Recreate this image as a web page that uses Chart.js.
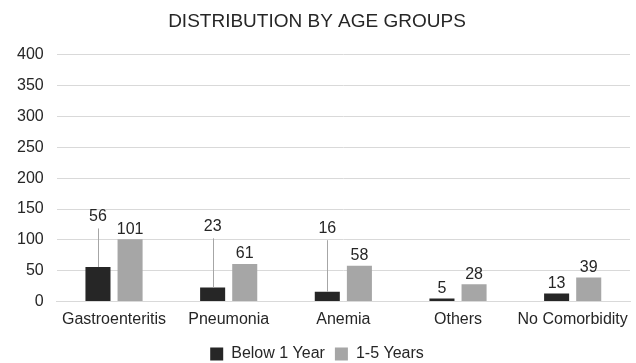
<!DOCTYPE html>
<html>
<head>
<meta charset="utf-8">
<script src="https://cdn.jsdelivr.net/npm/chart.js@4/dist/chart.umd.min.js"></script>
<style>
  html, body { margin: 0; padding: 0; background: #fff; }
  #wrap { width: 636px; height: 363px; }
</style>
</head>
<body>
<div id="wrap"><canvas id="chart" width="636" height="363"></canvas></div>
<script>
const categories = ["Gastroenteritis", "Pneumonia", "Anemia", "Others", "No Comorbidity"];
const below1Year = [56, 23, 16, 5, 13];
const oneToFive = [101, 61, 58, 28, 39];
const yTicks = [0, 50, 100, 150, 200, 250, 300, 350, 400];
// where the "Below 1 Year" labels were pulled up to (value units), null = just above bar
const below1LabelAt = [138, 122, 119, null, null];

const textColor = "#262626";
const fontFamily = "'Liberation Sans', Arial, sans-serif";

// value labels, with leader lines for the lifted ones
const valueLabels = {
  id: "valueLabels",
  afterDatasetsDraw(chart) {
    const ctx = chart.ctx;
    const y = chart.scales.y;
    ctx.save();
    ctx.font = "16px " + fontFamily;
    ctx.fillStyle = textColor;
    ctx.textAlign = "center";
    chart.data.datasets.forEach((ds, di) => {
      const meta = chart.getDatasetMeta(di);
      meta.data.forEach((bar, i) => {
        const lifted = di === 0 ? below1LabelAt[i] : null;
        if (lifted != null) {
          const ly = y.getPixelForValue(lifted);
          ctx.strokeStyle = "#a6a6a6";
          ctx.lineWidth = 1;
          ctx.beginPath();
          ctx.moveTo(Math.round(bar.x) + 0.5, bar.y);
          ctx.lineTo(Math.round(bar.x) + 0.5, ly + 12);
          ctx.stroke();
          ctx.textBaseline = "middle";
          ctx.fillText(ds.data[i], bar.x, ly);
        } else {
          ctx.textBaseline = "bottom";
          ctx.fillText(ds.data[i], bar.x, bar.y - 2);
        }
      });
    });
    ctx.restore();
  }
};

new Chart(document.getElementById("chart"), {
  type: "bar",
  data: {
    labels: categories,
    datasets: [
      {
        label: "Below 1 Year",
        data: below1Year,
        backgroundColor: "#262626",
        categoryPercentage: 0.56,
        barPercentage: 0.78
      },
      {
        label: "1-5 Years",
        data: oneToFive,
        backgroundColor: "#a6a6a6",
        categoryPercentage: 0.56,
        barPercentage: 0.78
      }
    ]
  },
  options: {
    responsive: false,
    animation: false,
    layout: { padding: { top: 2, right: 6, left: 4, bottom: -9 } },
    plugins: {
      title: {
        display: true,
        text: "DISTRIBUTION BY AGE GROUPS",
        color: textColor,
        font: { family: fontFamily, size: 19, weight: "normal" },
        padding: { top: 8, bottom: 22 }
      },
      legend: {
        position: "bottom",
        // empty title used only as a spacer above the legend items
        title: { display: true, text: " ", font: { size: 1 }, padding: { top: 0, bottom: 6 } },
        labels: {
          color: textColor,
          boxWidth: 13,
          boxHeight: 13,
          padding: 10,
          font: { family: fontFamily, size: 16 }
        }
      },
      tooltip: { enabled: false }
    },
    scales: {
      x: {
        grid: { display: false },
        border: { color: "#d9d9d9" },
        ticks: {
          color: textColor,
          padding: 0,
          maxRotation: 0,
          autoSkip: false,
          font: { family: fontFamily, size: 16 }
        }
      },
      y: {
        min: 0,
        max: 400,
        afterBuildTicks(axis) { axis.ticks = yTicks.map(v => ({ value: v })); },
        grid: { color: "#d9d9d9", drawTicks: false },
        border: { display: false },
        ticks: {
          color: textColor,
          padding: 13,
          font: { family: fontFamily, size: 16 }
        }
      }
    }
  },
  plugins: [valueLabels]
});
</script>
</body>
</html>
